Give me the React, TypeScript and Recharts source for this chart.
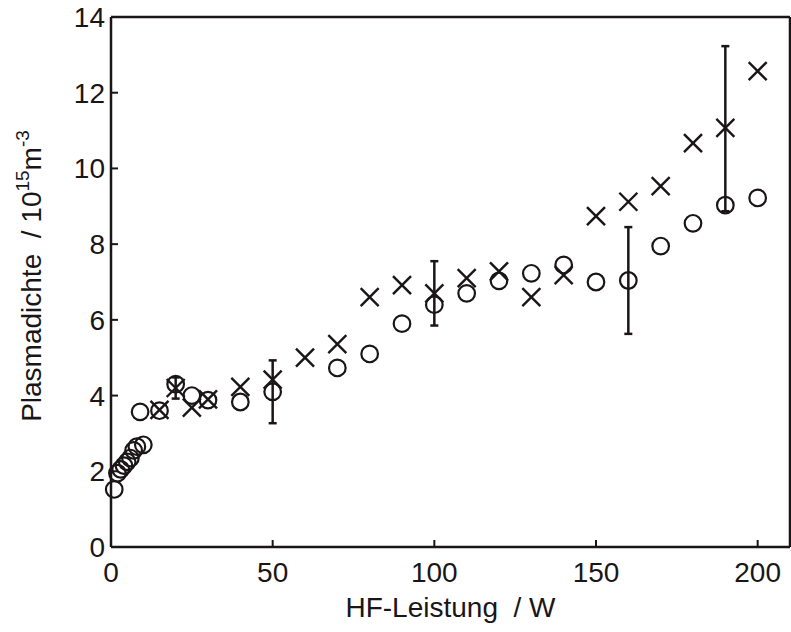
import { ScatterChart, Scatter, XAxis, YAxis, ErrorBar, Label } from 'recharts';

const circleX = [1, 2, 3, 4, 5, 6, 7, 8, 9, 10, 15, 20, 25, 30, 40, 50, 70, 80, 90, 100, 110, 120, 130, 140, 150, 160, 170, 180, 190, 200];
const circleY = [1.52, 1.95, 2.05, 2.15, 2.25, 2.35, 2.55, 2.65, 3.57, 2.7, 3.6, 4.3, 4.0, 3.88, 3.83, 4.1, 4.73, 5.1, 5.9, 6.4, 6.7, 7.03, 7.23, 7.45, 7.0, 7.04, 7.95, 8.55, 9.03, 9.22];

const crossX = [15, 20, 25, 30, 40, 50, 60, 70, 80, 90, 100, 110, 120, 130, 140, 150, 160, 170, 180, 190, 200];
const crossY = [3.62, 4.2, 3.68, 3.9, 4.23, 4.42, 5.0, 5.36, 6.6, 6.92, 6.7, 7.1, 7.28, 6.6, 7.18, 8.74, 9.12, 9.53, 10.67, 11.07, 12.57];

// points carrying error bars (x, centre, half-width)
const errX = [20, 50, 100, 160, 190];
const errY = [4.2, 4.1, 6.7, 7.04, 11.05];
const errSize = [0.28, 0.83, 0.85, 1.41, 2.18];

const xTicks = [0, 50, 100, 150, 200];
const yTicks = [0, 2, 4, 6, 8, 10, 12, 14];

const circles = circleX.map((x, i) => ({ x, y: circleY[i] }));
const crosses = crossX.map((x, i) => ({ x, y: crossY[i] }));
const errs = errX.map((x, i) => ({ x, y: errY[i], e: errSize[i] }));

const INK = '#1a1617';
const FONT = '"Liberation Sans", Arial, Helvetica, sans-serif';
const FS = 28;
const TICK = 7;

const CircleShape = (p: any) => (
  <circle cx={p.cx} cy={p.cy} r={8.3} fill="none" stroke={INK} strokeWidth={2.2} />
);
const CrossShape = (p: any) => (
  <g stroke={INK} strokeWidth={2.4}>
    <line x1={p.cx - 9} y1={p.cy - 9} x2={p.cx + 9} y2={p.cy + 9} />
    <line x1={p.cx - 9} y1={p.cy + 9} x2={p.cx + 9} y2={p.cy - 9} />
  </g>
);
const NoShape = () => <g />;

const BottomTick = (p: any) => (
  <g>
    <line x1={p.x} y1={p.y} x2={p.x} y2={p.y - TICK} stroke={INK} strokeWidth={2} />
    <text x={p.x} y={p.y + 35} textAnchor="middle" fontSize={FS} fontFamily={FONT} fill={INK}>
      {p.payload.value}
    </text>
  </g>
);
const TopTick = (p: any) => (
  <line x1={p.x} y1={p.y} x2={p.x} y2={p.y + TICK} stroke={INK} strokeWidth={2} />
);
const LeftTick = (p: any) => (
  <g>
    <line x1={p.x} y1={p.y} x2={p.x + TICK} y2={p.y} stroke={INK} strokeWidth={2} />
    <text x={p.x - 6} y={p.y + 10} textAnchor="end" fontSize={FS} fontFamily={FONT} fill={INK}>
      {p.payload.value}
    </text>
  </g>
);
const RightTick = (p: any) => (
  <line x1={p.x} y1={p.y} x2={p.x - TICK} y2={p.y} stroke={INK} strokeWidth={2} />
);

const YLabel = (p: any) => {
  const vb = p.viewBox;
  const cx = 41;
  const cy = vb.y + vb.height / 2 - 6;
  return (
    <text
      x={cx}
      y={cy}
      transform={`rotate(-90, ${cx}, ${cy})`}
      textAnchor="middle"
      fontSize={FS}
      fontFamily={FONT}
      fill={INK}
      style={{ whiteSpace: 'pre' }}
    >
      Plasmadichte  / 10<tspan fontSize={19} dy={-12}>15</tspan>
      <tspan dy={12}>m</tspan>
      <tspan fontSize={19} dy={-12}>-3</tspan>
    </text>
  );
};

const XLabel = (p: any) => {
  const vb = p.viewBox;
  return (
    <text
      x={vb.x + vb.width / 2}
      y={vb.y + 70}
      textAnchor="middle"
      fontSize={FS}
      fontFamily={FONT}
      fill={INK}
      style={{ whiteSpace: 'pre' }}
    >
      HF-Leistung  / W
    </text>
  );
};

export default function App() {
  return (
    <div style={{ position: 'absolute', left: 0, top: 0, background: '#fff' }}>
      <ScatterChart width={791} height={632} margin={{ top: 0, right: 0, bottom: 0, left: 0 }}>
        <XAxis
          xAxisId="b"
          type="number"
          dataKey="x"
          domain={[0, 210]}
          ticks={xTicks}
          height={85}
          tickSize={0}
          tickMargin={0}
          tick={<BottomTick />}
          axisLine={{ stroke: INK, strokeWidth: 2.5 }}
          interval={0}
        >
          <Label content={<XLabel />} />
        </XAxis>
        <XAxis
          xAxisId="t"
          orientation="top"
          type="number"
          dataKey="x"
          domain={[0, 210]}
          ticks={xTicks}
          height={17}
          tickSize={0}
          tickMargin={0}
          tick={<TopTick />}
          axisLine={{ stroke: INK, strokeWidth: 2.5 }}
          interval={0}
        />
        <YAxis
          yAxisId="l"
          type="number"
          dataKey="y"
          domain={[0, 14]}
          ticks={yTicks}
          width={111}
          tickSize={0}
          tickMargin={0}
          tick={<LeftTick />}
          axisLine={{ stroke: INK, strokeWidth: 2.5 }}
          interval={0}
        >
          <Label content={<YLabel />} />
        </YAxis>
        <YAxis
          yAxisId="r"
          orientation="right"
          type="number"
          dataKey="y"
          domain={[0, 14]}
          ticks={yTicks}
          width={1}
          tickSize={0}
          tickMargin={0}
          tick={<RightTick />}
          axisLine={{ stroke: INK, strokeWidth: 2.5 }}
          interval={0}
        />
        <Scatter
          data={errs}
          xAxisId="b"
          yAxisId="l"
          shape={<NoShape />}
          isAnimationActive={false}
        >
          <ErrorBar dataKey="e" direction="y" width={4} stroke={INK} strokeWidth={2.5} isAnimationActive={false} />
        </Scatter>
        <Scatter data={circles} xAxisId="b" yAxisId="l" shape={<CircleShape />} isAnimationActive={false} />
        <Scatter data={crosses} xAxisId="b" yAxisId="l" shape={<CrossShape />} isAnimationActive={false} />
      </ScatterChart>
    </div>
  );
}
